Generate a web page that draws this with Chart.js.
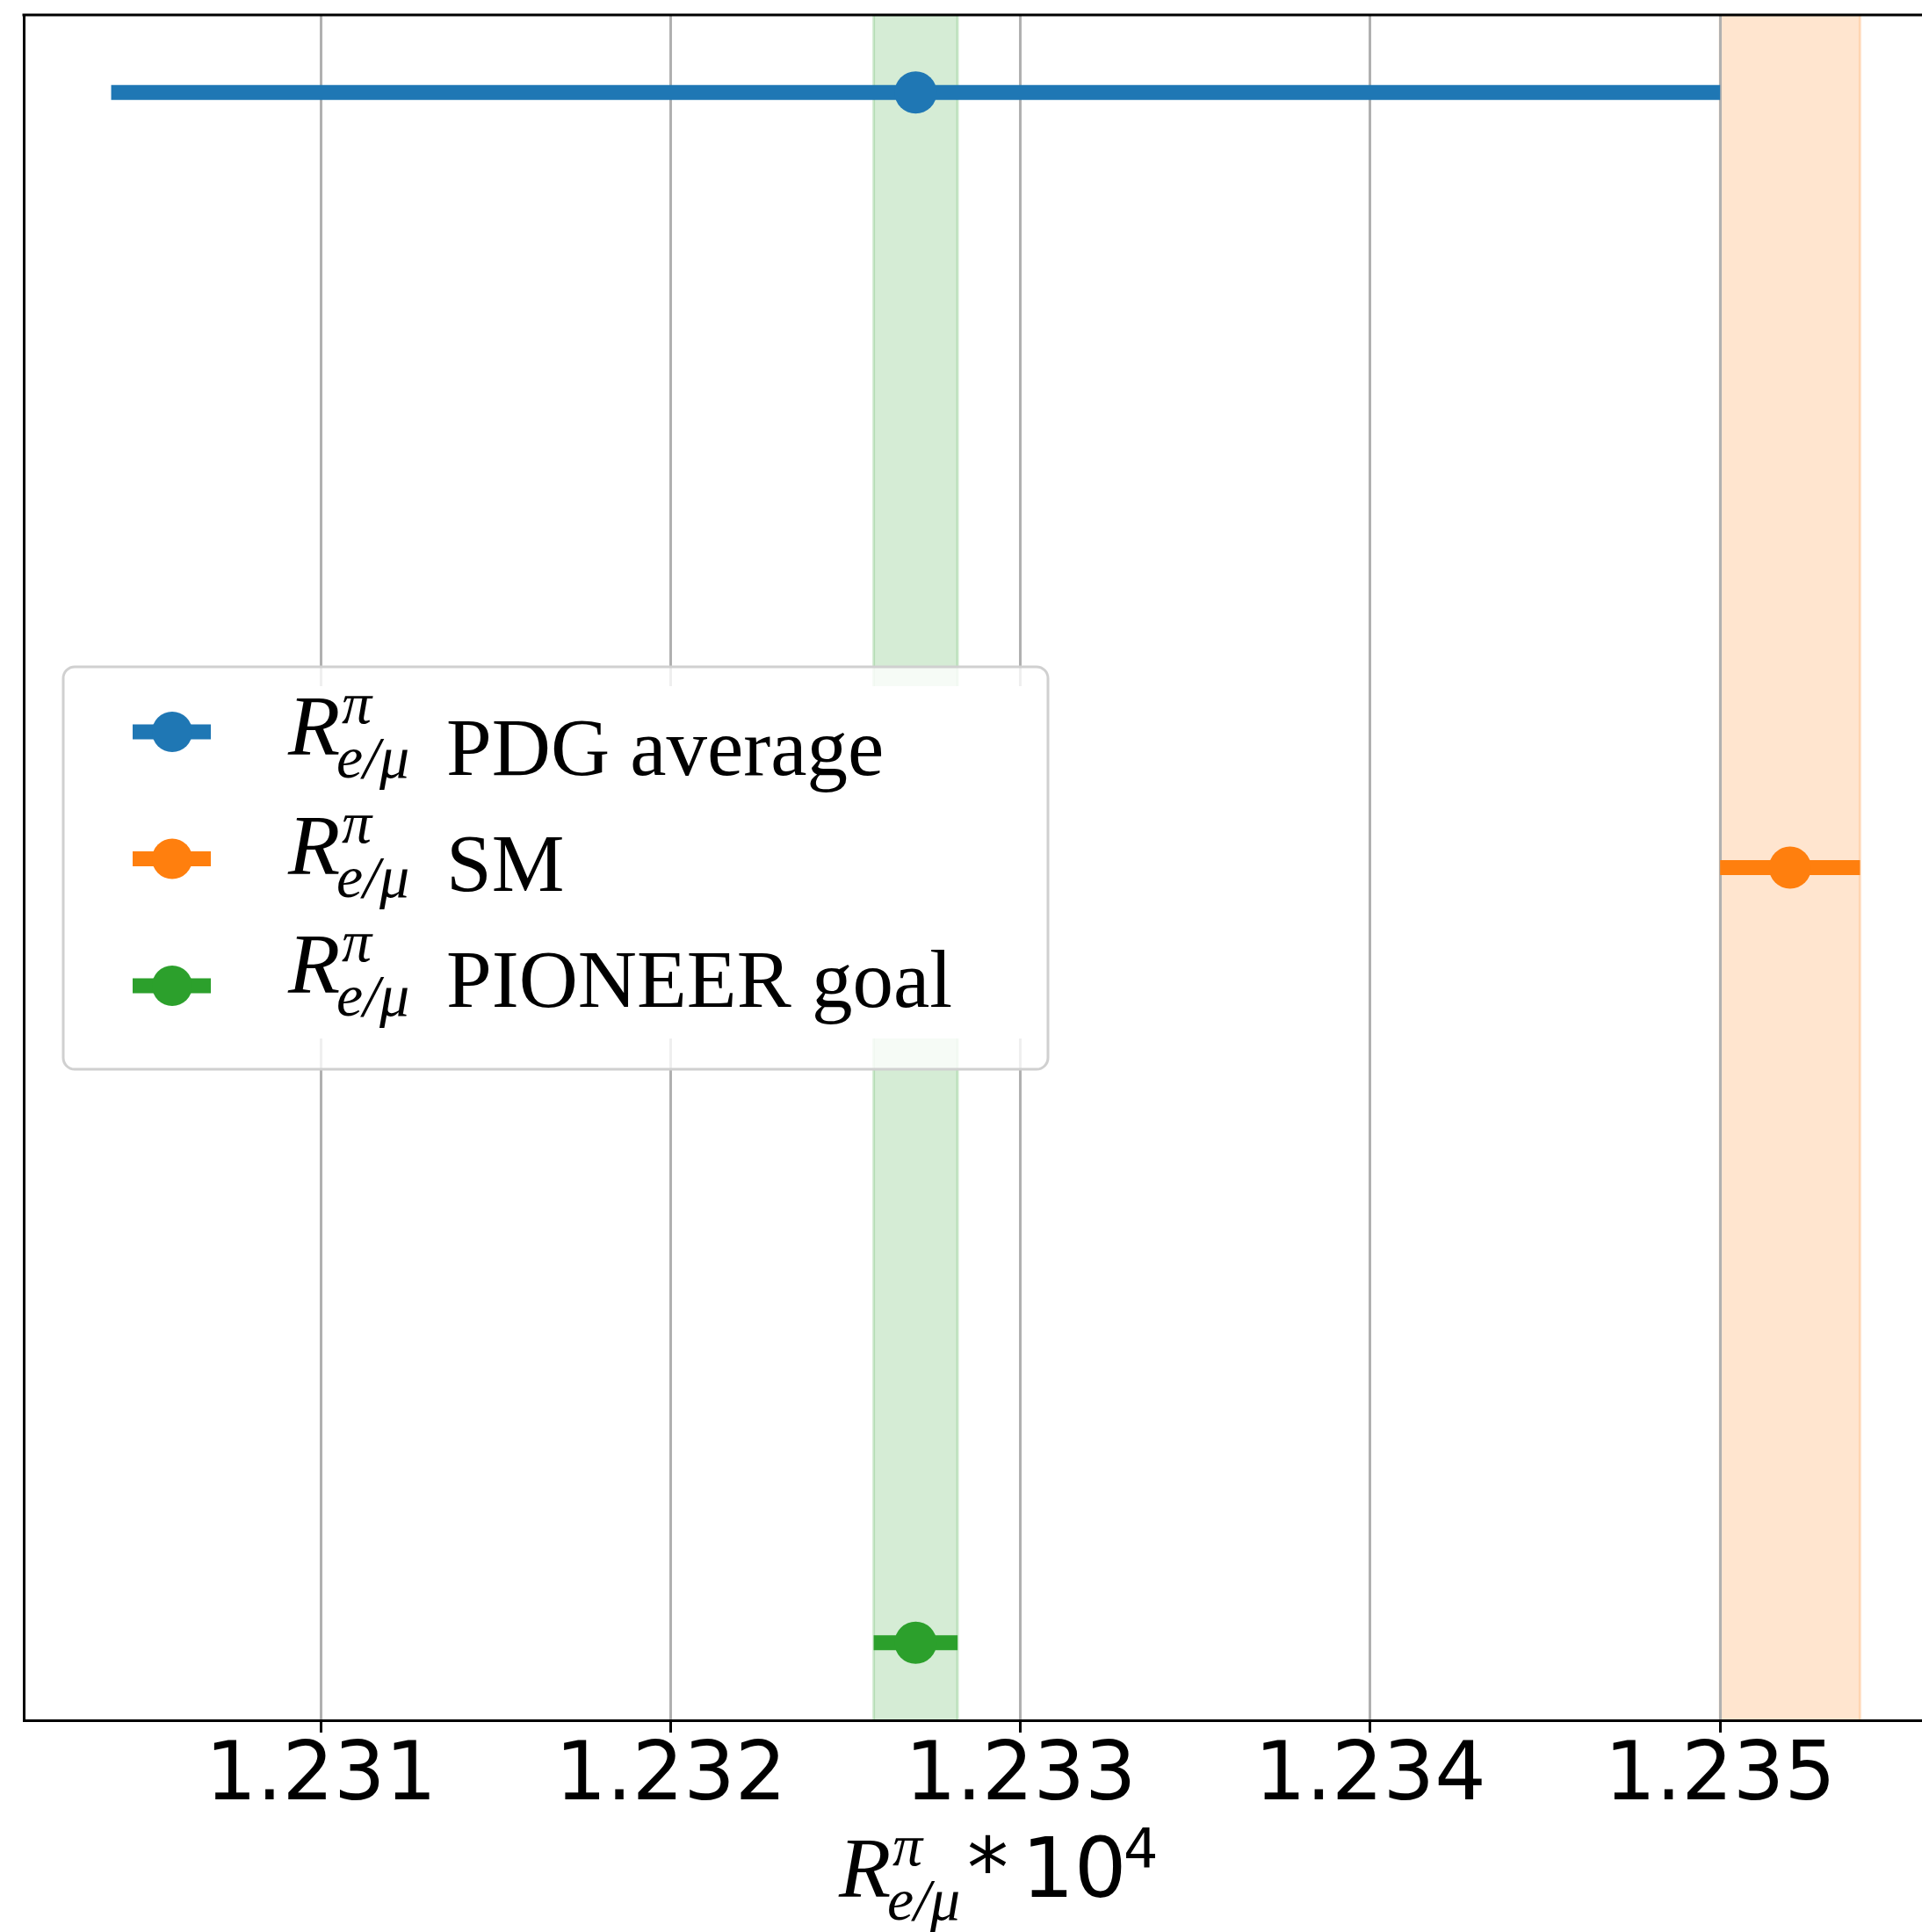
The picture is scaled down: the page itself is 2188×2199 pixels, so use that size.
<!DOCTYPE html>
<html>
<head>
<meta charset="utf-8">
<script src="https://cdn.jsdelivr.net/npm/chart.js@4.4.1/dist/chart.umd.min.js"></script>
<style>
  html, body { margin: 0; padding: 0; background: #fff; overflow: hidden; }
  /* the right spine sits just past the window edge, like in the picture */
  #wrap { width: 2218px; height: 2199px; }
</style>
</head>
<body>
<div id="wrap"><canvas id="ratio-chart"></canvas></div>
<script>
// ==========================================
// DATA
// ==========================================
const seriesLabels = ['PDG average', 'SM', 'PIONEER goal'];
const seriesValues = [1.2327, 1.2352, 1.2327];
const seriesErrors = [0.0023, 0.0002, 0.00012];
const seriesRows   = [2, 1, 0];
const bandSeries   = [1, 2];          // SM + PIONEER get a shaded band
const tickValues   = [1.231, 1.232, 1.233, 1.234, 1.235];

const seriesColors = ['#1f77b4', '#ff7f0e', '#2ca02c'];

// axis limits like matplotlib autoscale (5% margins)
const lows  = seriesValues.map((v, i) => v - seriesErrors[i]);
const highs = seriesValues.map((v, i) => v + seriesErrors[i]);
const xLo = Math.min(...lows), xHi = Math.max(...highs);
const xMin = xLo - (xHi - xLo) * 0.05;
const xMax = xHi + (xHi - xLo) * 0.05;
const yLo = Math.min(...seriesRows), yHi = Math.max(...seriesRows);
const yMin = yLo - (yHi - yLo) * 0.05;
const yMax = yHi + (yHi - yLo) * 0.05;

function rgba(hex, a) {
    const n = parseInt(hex.slice(1), 16);
    return `rgba(${(n >> 16) & 255},${(n >> 8) & 255},${n & 255},${a})`;
}

// R^pi_{e/mu} drawn by hand (no mathtext in canvas)
function drawRatioSymbol(ctx, x, base) {
    ctx.fillStyle = '#000';
    ctx.textBaseline = 'alphabetic';
    ctx.textAlign = 'left';
    ctx.font = 'italic 97px "Liberation Serif"';
    ctx.fillText('R', x, base);
    ctx.font = 'italic 68px "Liberation Serif"';
    ctx.fillText('\u03C0', x + 61, base - 36);
    ctx.fillText('e/\u03BC', x + 55, base + 26);
}

// ==========================================
// PLUGINS
// ==========================================
const bandsPlugin = {
    id: 'bands',
    beforeDraw(chart) {
        const { ctx, chartArea: a, scales: { x } } = chart;
        ctx.save();
        bandSeries.forEach(i => {
            const x1 = x.getPixelForValue(lows[i]);
            const x2 = x.getPixelForValue(highs[i]);
            ctx.fillStyle = rgba(seriesColors[i], 0.2);
            ctx.fillRect(x1, a.top, x2 - x1, a.bottom - a.top);
            ctx.strokeStyle = rgba(seriesColors[i], 0.2);
            ctx.lineWidth = 3;
            ctx.beginPath();
            ctx.moveTo(x1, a.top); ctx.lineTo(x1, a.bottom);
            ctx.moveTo(x2, a.top); ctx.lineTo(x2, a.bottom);
            ctx.stroke();
        });
        ctx.restore();
    }
};

const framePlugin = {
    id: 'frame',
    afterDatasetsDraw(chart) {
        const { ctx, chartArea: a } = chart;
        ctx.save();
        ctx.strokeStyle = '#000';
        ctx.lineWidth = 3;
        ctx.beginPath();
        ctx.moveTo(a.left - 1.5, a.top);
        ctx.lineTo(a.right, a.top);
        ctx.lineTo(a.right, a.bottom);
        ctx.stroke();
        ctx.restore();
    }
};

const titlePlugin = {
    id: 'axisTitle',
    afterDraw(chart) {
        const { ctx, scales: { x }, chartArea: a } = chart;
        const center = x.getPixelForValue((xMin + xMax) / 2);
        const left = center - 167;
        const base = a.bottom + 201;
        ctx.save();
        drawRatioSymbol(ctx, left, base);
        ctx.font = '94px "DejaVu Sans"';
        ctx.fillText('*', left + 146, base);
        ctx.fillText('10', left + 208, base);
        ctx.font = '62px "DejaVu Sans"';
        ctx.fillText('4', left + 324, base - 33);
        ctx.restore();
    }
};

function roundRectPath(ctx, x, y, w, h, r) {
    ctx.beginPath();
    ctx.moveTo(x + r, y);
    ctx.lineTo(x + w - r, y);
    ctx.arcTo(x + w, y, x + w, y + r, r);
    ctx.lineTo(x + w, y + h - r);
    ctx.arcTo(x + w, y + h, x + w - r, y + h, r);
    ctx.lineTo(x + r, y + h);
    ctx.arcTo(x, y + h, x, y + h - r, r);
    ctx.lineTo(x, y + r);
    ctx.arcTo(x, y, x + r, y, r);
    ctx.closePath();
}

const legendPlugin = {
    id: 'mathLegend',
    afterDraw(chart) {
        const ctx = chart.ctx;
        const box = { x: 72, y: 759, w: 1121, h: 458 };
        ctx.save();
        roundRectPath(ctx, box.x, box.y, box.w, box.h, 13);
        ctx.fillStyle = 'rgba(255,255,255,0.8)';
        ctx.fill();
        ctx.fillStyle = '#fff';
        ctx.fillRect(box.x + 2, 781, box.w - 4, 401);
        roundRectPath(ctx, box.x, box.y, box.w, box.h, 13);
        ctx.strokeStyle = '#d0d0d0';
        ctx.lineWidth = 3;
        ctx.stroke();

        seriesLabels.forEach((lab, i) => {
            const my = 833 + i * 144.5;
            const col = seriesColors[i];
            ctx.strokeStyle = col;
            ctx.lineWidth = 17;
            ctx.lineCap = 'butt';
            ctx.beginPath();
            ctx.moveTo(151, my); ctx.lineTo(240, my);
            ctx.stroke();
            ctx.fillStyle = col;
            ctx.beginPath();
            ctx.arc(196, my, 23, 0, Math.PI * 2);
            ctx.fill();

            drawRatioSymbol(ctx, 328, 859 + i * 135.5);
            ctx.font = '93px "Liberation Serif"';
            ctx.fillText(lab, 508, 882 + i * 132);
        });
        ctx.restore();
    }
};

// ==========================================
// CHART
// ==========================================
const canvas = document.getElementById('ratio-chart');
new Chart(canvas.getContext('2d'), {
    type: 'scatter',
    data: {
        datasets: seriesLabels.map((lab, i) => ({
            label: lab,
            data: [
                { x: lows[i], y: seriesRows[i] },
                { x: seriesValues[i], y: seriesRows[i] },
                { x: highs[i], y: seriesRows[i] }
            ],
            showLine: true,
            borderColor: seriesColors[i],
            backgroundColor: seriesColors[i],
            borderWidth: 17,
            borderCapStyle: 'butt',
            pointRadius: [0, 24, 0],
            pointHoverRadius: [0, 24, 0],
            pointBorderWidth: 0,
            pointBackgroundColor: seriesColors[i]
        }))
    },
    options: {
        responsive: true,
        maintainAspectRatio: false,
        animation: false,
        events: [],
        layout: { padding: { top: 17, right: 1, left: 0, bottom: 0 } },
        plugins: { legend: { display: false }, tooltip: { enabled: false } },
        scales: {
            x: {
                type: 'linear',
                min: xMin,
                max: xMax,
                afterBuildTicks: s => { s.ticks = tickValues.map(v => ({ value: v })); },
                afterFit: s => { s.height = 241; },
                ticks: {
                    callback: v => Number(v).toFixed(3),
                    color: '#000',
                    font: { family: 'DejaVu Sans', size: 92 },
                    padding: -3,
                    maxRotation: 0,
                    autoSkip: false
                },
                grid: { color: '#b0b0b0', lineWidth: 3, drawTicks: true, tickLength: 14, tickColor: '#000', tickWidth: 3 },
                border: { color: '#000', width: 3 }
            },
            y: {
                type: 'linear',
                min: yMin,
                max: yMax,
                afterFit: s => { s.width = 27; },
                ticks: { display: false },
                grid: { display: false },
                border: { color: '#000', width: 3 }
            }
        }
    },
    plugins: [bandsPlugin, framePlugin, legendPlugin, titlePlugin]
});
</script>
</body>
</html>
